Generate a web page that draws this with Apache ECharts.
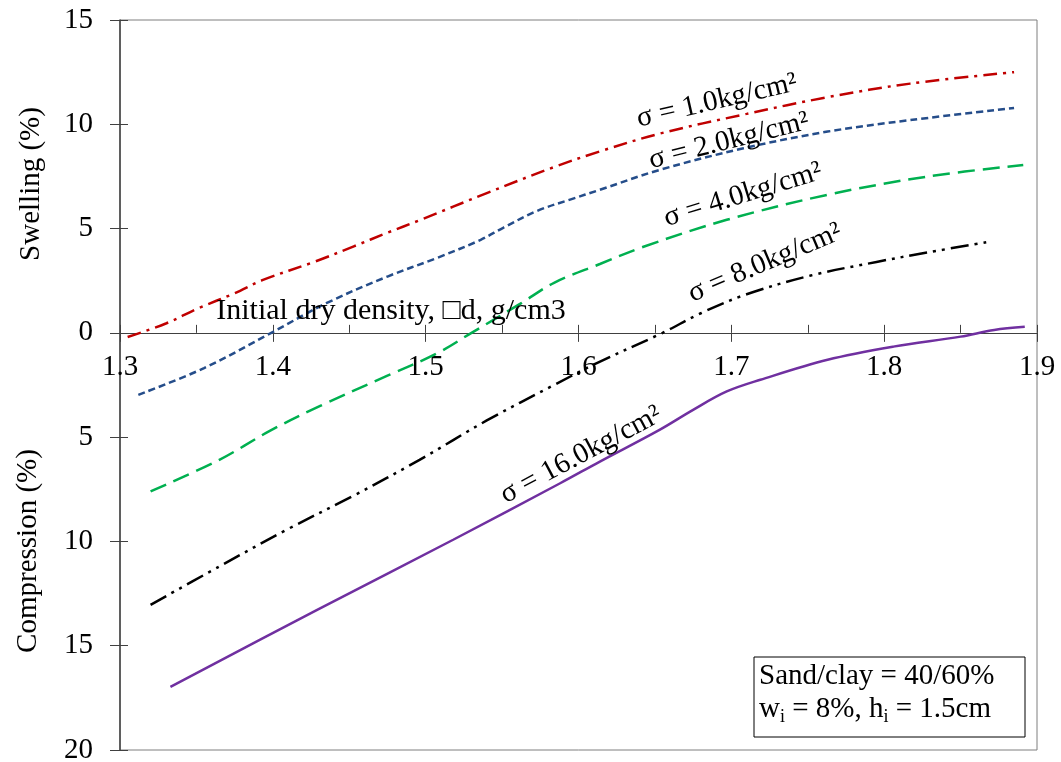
<!DOCTYPE html>
<html><head><meta charset="utf-8">
<script src="https://cdn.jsdelivr.net/npm/echarts@6/dist/echarts.min.js"></script>
<style>html,body{margin:0;padding:0;background:#fff}#c{width:1061px;height:762px}</style>
</head><body><div id="c"></div>
<script>
const FONT = 'Liberation Serif';

// Initial dry density (g/cm3) and swelling(+)/compression(-) (%) for each vertical stress
const s1X = [1.305, 1.330, 1.352, 1.375, 1.394, 1.427, 1.453, 1.475, 1.496, 1.540, 1.584, 1.614, 1.653, 1.710, 1.763, 1.817, 1.885];
const s1Y = [-0.2, 0.45, 1.2, 1.9, 2.55, 3.4, 4.15, 4.8, 5.4, 6.7, 7.95, 8.7, 9.55, 10.5, 11.3, 11.95, 12.5];

const s2X = [1.312, 1.355, 1.399, 1.435, 1.475, 1.507, 1.536, 1.551, 1.573, 1.595, 1.614, 1.653, 1.708, 1.763, 1.817, 1.885];
const s2Y = [-2.97, -1.69, 0.0, 1.42, 2.7, 3.58, 4.46, 5.05, 5.85, 6.4, 6.86, 7.81, 8.85, 9.65, 10.2, 10.78];

const s4X = [1.320, 1.365, 1.398, 1.431, 1.475, 1.507, 1.530, 1.562, 1.584, 1.614, 1.643, 1.697, 1.763, 1.828, 1.891];
const s4Y = [-7.6, -6.09, -4.7, -3.5, -2.05, -1.0, 0.0, 1.4, 2.4, 3.3, 4.14, 5.42, 6.62, 7.49, 8.05];

const s8X = [1.320, 1.365, 1.409, 1.453, 1.496, 1.540, 1.584, 1.612, 1.655, 1.680, 1.710, 1.752, 1.795, 1.828, 1.867];
const s8Y = [-13.04, -11.2, -9.44, -7.8, -6.09, -4.2, -2.5, -1.45, 0.0, 0.94, 1.85, 2.75, 3.4, 3.85, 4.35];

const s16X = [1.333, 1.429, 1.518, 1.588, 1.614, 1.653, 1.675, 1.697, 1.719, 1.763, 1.806, 1.850, 1.872, 1.892];
const s16Y = [-16.97, -13.28, -9.92, -7.21, -6.17, -4.65, -3.69, -2.81, -2.25, -1.29, -0.66, -0.18, 0.14, 0.29];

const xMin = 1.3, xMax = 1.9, xStep = 0.1;
const yMin = -20, yMax = 15, yStep = 5;

const curveLabels = ['σ = 1.0kg/cm²', 'σ = 2.0kg/cm²', 'σ = 4.0kg/cm²', 'σ = 8.0kg/cm²', 'σ = 16.0kg/cm²'];
const xAxisTitle = 'Initial dry density, \u25A1d, g/cm3';
const swellTitle = 'Swelling (%)';
const compTitle = 'Compression (%)';
const noteLines = ['Sand/clay = 40/60%', 'w{sub|i} = 8%, h{sub|i} = 1.5cm'];

function pairs(xs, ys) { return xs.map((x, i) => [x, ys[i]]); }

const lineDefs = [
  { x: s1X, y: s1Y, color: '#C00000', type: [14, 6, 3, 6] },
  { x: s2X, y: s2Y, color: '#254D8A', type: [7, 4] },
  { x: s4X, y: s4Y, color: '#00B050', type: [17, 8] },
  { x: s8X, y: s8Y, color: '#000000', type: [18, 6, 3, 6, 3, 6] },
  { x: s16X, y: s16Y, color: '#7030A0', type: 'solid' }
];

const series = lineDefs.map((d, i) => ({
  type: 'line', name: curveLabels[i], data: pairs(d.x, d.y),
  xAxisIndex: 0, yAxisIndex: 0, symbol: 'none', smooth: 0.35, z: 3,
  lineStyle: { color: d.color, width: 2.5, type: d.type, cap: 'butt' }
}));

const G = { left: 120, right: 24, top: 20, bottom: 12 };
const plotH = 762 - G.top - G.bottom;
// the horizontal axis sits on y = 0: shift it up from the grid bottom by the zero's distance
const zeroOffset = -plotH * (0 - yMin) / (yMax - yMin);

const axisCol = '#404040';
const xBase = { type: 'value', min: xMin, max: xMax, interval: xStep, position: 'bottom', offset: zeroOffset,
  splitLine: { show: false }, minorSplitLine: { show: false } };
const yBase = { type: 'value', min: yMin, max: yMax, interval: yStep, position: 'left', splitLine: { show: false } };

const option = {
  animation: false,
  grid: Object.assign({ show: true, borderColor: '#7f7f7f', borderWidth: 1, containLabel: false, outerBoundsMode: 'none' }, G),
  xAxis: [
    Object.assign({}, xBase, {
      axisLine: { show: true, onZero: false, lineStyle: { color: axisCol, width: 1 } },
      axisTick: { inside: true, length: 8, lineStyle: { color: axisCol } },
      minorTick: { show: true, splitNumber: 2, length: 8, lineStyle: { color: axisCol } },
      axisLabel: { fontFamily: FONT, fontSize: 29, color: '#000', margin: 20, formatter: v => v.toFixed(1) } }),
    Object.assign({}, xBase, {
      axisLine: { show: false, onZero: false },
      axisTick: { inside: false, length: 9, lineStyle: { color: axisCol } },
      axisLabel: { show: false } })
  ],
  yAxis: [
    Object.assign({}, yBase, {
      axisLine: { show: true, onZero: false, lineStyle: { color: axisCol, width: 1.5 } },
      axisTick: { inside: true, length: 8, lineStyle: { color: axisCol } },
      axisLabel: { fontFamily: FONT, fontSize: 29, color: '#000', margin: 27, formatter: v => String(Math.abs(v)) } }),
    Object.assign({}, yBase, {
      axisLine: { show: false, onZero: false },
      axisTick: { inside: false, length: 10, lineStyle: { color: axisCol } },
      axisLabel: { show: false } })
  ],
  series: series,
  graphic: []
};

const deg = Math.PI / 180;
const labelPos = [
  { x: 717, y: 101, r: 13 },
  { x: 729, y: 141, r: 14 },
  { x: 743, y: 195, r: 17 },
  { x: 765, y: 263, r: 23 },
  { x: 581, y: 455, r: 28 }
];
const txt = (text, x, y, rot, size) => ({
  type: 'text', x: x, y: y, rotation: rot, z: 10,
  style: { text: text, fontFamily: FONT, fontSize: size, fill: '#000', align: 'center', verticalAlign: 'middle' }
});
option.graphic.push(txt(swellTitle, 31, 184, Math.PI / 2, 29));
option.graphic.push(txt(compTitle, 28, 551, Math.PI / 2, 29));
option.graphic.push(txt(xAxisTitle, 391, 311, 0, 30));
curveLabels.forEach((t, i) => option.graphic.push(txt(t, labelPos[i].x, labelPos[i].y, labelPos[i].r * deg, 29)));
option.graphic.push({ type: 'rect', z: 10, shape: { x: 754, y: 657, width: 271, height: 80 },
  style: { fill: '#fff', stroke: '#000', lineWidth: 1 } });
option.graphic.push({ type: 'text', z: 11, x: 759, y: 660,
  style: { text: noteLines.join('\n'), fontFamily: FONT, fontSize: 29, lineHeight: 33, fill: '#000',
    rich: { sub: { fontFamily: FONT, fontSize: 18, lineHeight: 8, verticalAlign: 'bottom', fill: '#000' } } } });

const chart = echarts.init(document.getElementById('c'));
chart.setOption(option);
</script></body></html>
